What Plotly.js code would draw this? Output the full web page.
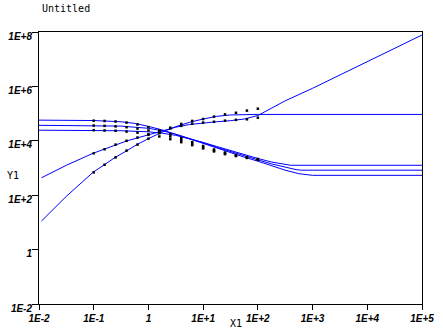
<!DOCTYPE html>
<html>
<head>
<meta charset="utf-8">
<script src="https://cdn.plot.ly/plotly-3.0.1.min.js"></script>
<style>html,body{margin:0;padding:0;background:#fff;}#chart{width:443px;height:334px;}</style>
</head>
<body>
<div id="chart"></div>
<script>
// All values are log10 of the data
// --- fitted lines ---
const lossLineX = [-1.955,-1.5,-1.013,-0.7,-0.39,0,0.25,0.5,0.75,1.0,1.25,1.5,1.75,2.0,2.25,2.5,3,4,5];
const lossLineY = [2.64,3.10,3.54,3.78,4.0,4.22,4.36,4.50,4.60,4.66,4.70,4.74,4.80,4.93,5.20,5.47,5.93,6.91,7.89];
const storLineX = [-1.955,-1.5,-1.013,-0.8,-0.6,-0.39,-0.22,0,0.25,0.5,0.75,1.0,1.25,1.5,1.75,2,5];
const storLineY = [1.05,1.96,2.84,3.14,3.40,3.64,3.85,4.08,4.32,4.52,4.68,4.80,4.90,4.95,4.97,4.97,4.97];
const visALineX = [-2,-1.5,-1,-0.5,-0.25,0,0.25,0.5,0.75,1,1.25,1.5,1.75,2,2.25,2.5,2.75,2.9,3,5];
const visALineY = [4.76,4.76,4.745,4.70,4.64,4.53,4.40,4.24,4.07,3.89,3.72,3.55,3.40,3.25,3.08,2.92,2.79,2.74,2.73,2.73];
const visBLineX = [-2,-1,-0.5,0,0.25,0.5,0.75,1,1.25,1.5,1.75,2,2.25,2.5,2.7,2.8,5];
const visBLineY = [4.57,4.565,4.54,4.46,4.37,4.24,4.09,3.93,3.76,3.60,3.45,3.30,3.15,3.02,2.94,2.92,2.92];
const visCLineX = [-2,-1,-0.5,0,0.25,0.5,0.75,1,1.25,1.5,1.75,2,2.25,2.5,2.6,5];
const visCLineY = [4.39,4.385,4.37,4.33,4.28,4.20,4.08,3.94,3.79,3.64,3.49,3.35,3.22,3.13,3.10,3.10];
// --- measured points ---
const dotX = [0.1,0.158,0.251,0.398,0.631,1,1.58,2.51,3.98,6.31,10,15.8,25.1,39.8,63.1,100];
const lossDots = [3.54,3.69,3.86,4.0,4.12,4.22,4.33,4.45,4.55,4.63,4.67,4.70,4.74,4.77,4.79,4.85];
const storDots = [2.84,3.12,3.39,3.64,3.86,4.08,4.30,4.48,4.62,4.73,4.80,4.89,4.97,5.03,5.11,5.18];
const visADots = [4.74,4.73,4.71,4.67,4.60,4.50,4.38,4.24,4.10,3.95,3.81,3.68,3.57,3.48,3.40,3.33];
const visBDots = [4.56,4.55,4.53,4.50,4.45,4.38,4.28,4.16,4.03,3.89,3.76,3.64,3.54,3.46,3.39,3.32];
const visCDots = [4.39,4.38,4.37,4.34,4.30,4.24,4.16,4.06,3.95,3.84,3.72,3.61,3.51,3.44,3.37,3.30];
// --- ticks ---
const xTickVals = [0.01,0.1,1,10,100,1000,10000,100000];
const xTickText = ['1E-2','1E-1','1','1E+1','1E+2','1E+3','1E+4','1E+5'];
const yTickVals = [0.01,1,100,10000,1000000,100000000];
const yTickText = ['1E-2','1','1E+2','1E+4','1E+6','1E+8'];

const p10 = a => a.map(v => Math.pow(10, v));
const lineStyle = {color:'#0000ff', width:1};
function line(xs, ys){ return {x:p10(xs), y:p10(ys), mode:'lines', line:lineStyle, hoverinfo:'skip'}; }
function dots(ys){ return {x:dotX, y:p10(ys), mode:'markers', marker:{symbol:'square', size:2.5, color:'#000'}, hoverinfo:'skip'}; }

const data = [
  line(lossLineX, lossLineY), line(storLineX, storLineY),
  line(visALineX, visALineY), line(visBLineX, visBLineY), line(visCLineX, visCLineY),
  dots(lossDots), dots(storDots), dots(visADots), dots(visBDots), dots(visCDots)
];

const tickFont = {family:'Liberation Sans, Arial, sans-serif', size:10, weight:'bold', style:'italic', color:'#000'};
const labFont = {family:'DejaVu Sans Mono, monospace', size:10, color:'#000'};
const layout = {
  width:443, height:334,
  margin:{l:39, r:21, t:32, b:30, pad:0},
  paper_bgcolor:'#fff', plot_bgcolor:'#fff',
  showlegend:false,
  xaxis:{type:'log', range:[-2,5], tickvals:xTickVals, ticktext:xTickText,
    ticks:'outside', ticklen:5, tickwidth:1, tickcolor:'#000',
    showline:true, linecolor:'#000', linewidth:1, mirror:true,
    showgrid:false, zeroline:false, tickfont:tickFont},
  yaxis:{type:'log', range:[-2,8], tickvals:yTickVals, ticktext:yTickText,
    ticks:'outside', ticklen:6, tickwidth:1, tickcolor:'#000',
    ticklabelshift:4, ticklabelstandoff:-2,
    showline:true, linecolor:'#000', linewidth:1, mirror:true,
    showgrid:false, zeroline:false, tickfont:tickFont},
  annotations:[
    {text:'Untitled', xref:'paper', yref:'paper', x:0.003, y:1.088, xanchor:'left', yanchor:'middle', showarrow:false, font:labFont},
    {text:'Y1', xref:'paper', yref:'paper', x:-0.069, y:0.474, xanchor:'center', yanchor:'middle', showarrow:false, font:labFont},
    {text:'X1', xref:'paper', yref:'paper', x:0.514, y:-0.0735, xanchor:'center', yanchor:'middle', showarrow:false, font:labFont}
  ]
};
Plotly.newPlot('chart', data, layout, {staticPlot:true, displayModeBar:false});
</script>
</body>
</html>
